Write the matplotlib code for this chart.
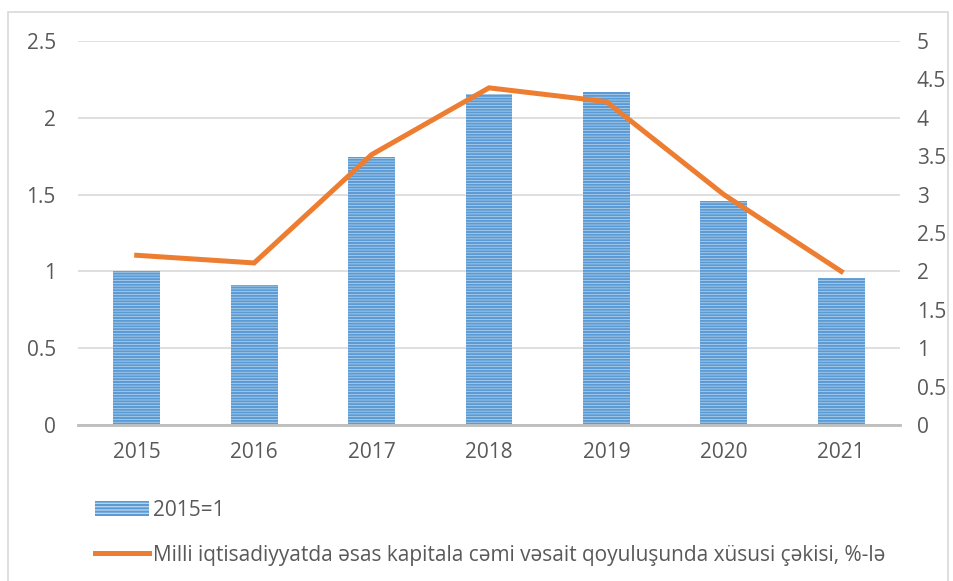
import matplotlib.pyplot as plt
from matplotlib.patches import Rectangle, Patch
from matplotlib.lines import Line2D
from matplotlib.ticker import FuncFormatter

# datos
anios = ['2015', '2016', '2017', '2018', '2019', '2020', '2021']
indice = [1.0, 0.91, 1.745, 2.155, 2.17, 1.46, 0.96]
peso = [2.21, 2.11, 3.52, 4.39, 4.21, 3.0, 2.0]

etiqueta_barras = '2015=1'
etiqueta_linea = 'Milli iqtisadiyyatda əsas kapitala cəmi vəsait qoyuluşunda xüsusi çəkisi, %-lə'

plt.rcParams['font.family'] = ['Open Sans', 'DejaVu Sans']
plt.rcParams['hatch.color'] = '#5b9bd5'
plt.rcParams['hatch.linewidth'] = 1.5
gris = '#595959'

fig = plt.figure(figsize=(9.54, 5.81), dpi=100)
ax = fig.add_axes([78 / 954, 1 - 425 / 581, 822 / 954, 384 / 581])
ax2 = ax.twinx()

x = range(len(anios))
ax.bar(x, indice, width=0.4, color='#bdd7ee', edgecolor='#5b9bd5', linewidth=0,
       hatch='------', zorder=2)
ax.set_ylim(0, 2.5)
ax.set_yticks([0, 0.5, 1, 1.5, 2, 2.5])
ax.set_xlim(-0.5, 6.5)
ax.set_xticks(list(x))
ax.set_xticklabels(anios)
ax.grid(axis='y', color='#d9d9d9', linewidth=1.2, zorder=0)
ax.set_axisbelow(True)

ax2.plot(x, peso, color='#ed7d31', linewidth=3.6, solid_joinstyle='miter', zorder=3)
ax2.set_ylim(0, 5)
ax2.set_yticks([i * 0.5 for i in range(11)])

fmt = FuncFormatter(lambda v, p: '%g' % v)
ax.yaxis.set_major_formatter(fmt)
ax2.yaxis.set_major_formatter(fmt)

for a in (ax, ax2):
    for s in ['top', 'left', 'right']:
        a.spines[s].set_visible(False)
    a.spines['bottom'].set_color('#bfbfbf')
    a.spines['bottom'].set_linewidth(1.8)
    a.tick_params(length=0, labelsize=15, colors=gris)
ax.tick_params(axis='y', pad=16)
ax2.tick_params(axis='y', pad=12)
ax.tick_params(axis='x', pad=12)

# leyenda debajo
h1 = Patch(facecolor='#bdd7ee', edgecolor='#5b9bd5', linewidth=0, hatch='-----')
h2 = Line2D([0], [0], color='#ed7d31', linewidth=3.6)
fig.legend([h1, h2], [etiqueta_barras, etiqueta_linea], loc='upper left',
           bbox_to_anchor=(76 / 954, 1 - 481 / 581), frameon=False, fontsize=15,
           labelcolor=gris, handlelength=2.6, handletextpad=0.2, labelspacing=1.15,
           handleheight=0.8)

fig.patches.append(Rectangle((8 / 954, -0.05), 940 / 954, 1.05 - 12 / 581,
                             transform=fig.transFigure, fill=False,
                             edgecolor='#d9d9d9', linewidth=1.2))

fig.savefig('out.png', dpi=100)
